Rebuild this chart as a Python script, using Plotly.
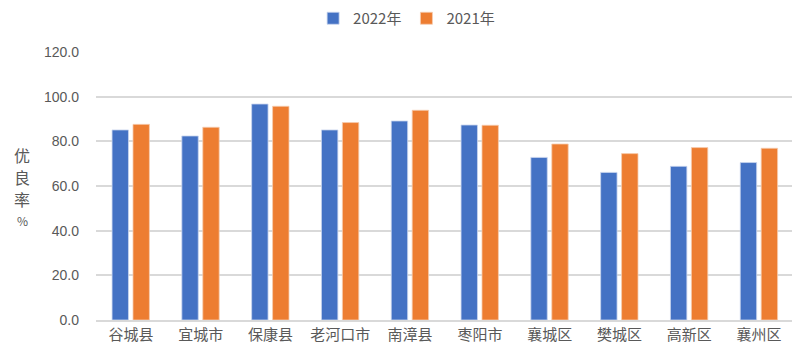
import plotly.graph_objects as go

categories = ["谷城县", "宜城市", "保康县", "老河口市", "南漳县", "枣阳市", "襄城区", "樊城区", "高新区", "襄州区"]
values_2022 = [85.1, 82.4, 96.7, 85.1, 89.1, 87.3, 72.8, 66.1, 68.8, 70.5]
values_2021 = [87.6, 86.3, 95.7, 88.4, 93.9, 87.2, 78.8, 74.5, 77.2, 76.9]
y_ticks = [0, 20, 40, 60, 80, 100, 120]
y_tick_labels = ["0.0", "20.0", "40.0", "60.0", "80.0", "100.0", "120.0"]
y_title_chars = ["优", "良", "率", "%"]

BLUE = "#4472C4"
ORANGE = "#ED7D31"
GRID = "#d9d9d9"
TXT = "#595959"
FONT = "Liberation Sans, Noto Sans CJK SC, sans-serif"
CJK = "Noto Sans CJK SC, sans-serif"

fig = go.Figure()
fig.add_trace(go.Bar(
    name="2022年", x=categories, y=values_2022,
    marker=dict(color=BLUE, line=dict(color="#c9d6ef", width=0.8)),
    width=0.235, offset=-0.27,
))
fig.add_trace(go.Bar(
    name="2021年", x=categories, y=values_2021,
    marker=dict(color=ORANGE, line=dict(color="#f6cdb0", width=0.8)),
    width=0.235, offset=0.03,
))

# page body has an 8px margin; margins compensate for it
fig.update_layout(
    width=800, height=356,
    margin=dict(l=88, r=14, t=44, b=44, autoexpand=False),
    paper_bgcolor="white", plot_bgcolor="white",
    font=dict(family=FONT, color=TXT, size=14),
    showlegend=True,
    legend=dict(
        orientation="h", x=0.445, xanchor="center", y=1.125, yanchor="middle",
        font=dict(size=15, color=TXT, family=CJK),
        itemwidth=30, traceorder="normal", tracegroupgap=0,
        bgcolor="rgba(0,0,0,0)",
    ),
)

fig.update_xaxes(
    showgrid=False, showline=True, linecolor=GRID, linewidth=1.5,
    tickfont=dict(size=15, color=TXT, family=CJK),
    ticks="", fixedrange=True, automargin=False,
)
fig.update_yaxes(
    range=[0, 120], tickvals=y_ticks, ticktext=y_tick_labels,
    showgrid=True, gridcolor=GRID, gridwidth=1.5,
    zeroline=False, showline=False, ticks="",
    tickfont=dict(size=14, color=TXT, family=FONT),
    ticklabelstandoff=16, automargin=False,
)

ys = [155, 177, 199, 220]
for ch, yp in zip(y_title_chars, ys):
    fig.add_annotation(
        text=ch, xref="paper", yref="paper",
        x=(22 - 96) / 698, y=(320 - yp) / 268,
        xanchor="center", yanchor="middle", showarrow=False,
        font=dict(size=16 if ch != "%" else 12, color=TXT, family=CJK),
    )

fig.write_html("out.html")
